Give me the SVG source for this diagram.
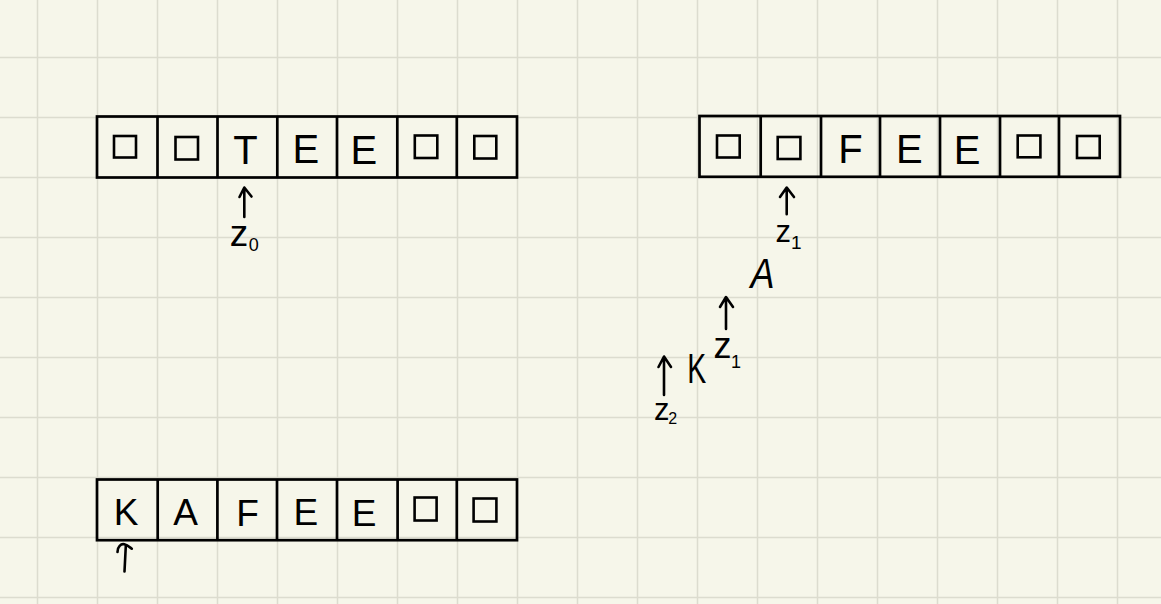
<svg xmlns="http://www.w3.org/2000/svg" width="1161" height="604" viewBox="0 0 1161 604">
<defs>
<style>
.grid line{stroke:#dcdccf;stroke-width:1.5}
.cell{fill:none;stroke:#000;stroke-width:2.7}
.blank{fill:none;stroke:#000;stroke-width:2.6}
.l{font-family:"Liberation Sans",Arial,sans-serif;font-size:40px;fill:#000;text-anchor:middle}
.l3{font-size:37px}
.h{font-family:"Liberation Sans",Arial,sans-serif;fill:#000;text-anchor:middle}
.arr{fill:none;stroke:#000;stroke-width:2.6;stroke-linecap:round;stroke-linejoin:round}
</style>
</defs>
<rect width="1161" height="604" fill="#f6f6ea"/>
<g class="grid">
<line x1="37.5" y1="0" x2="37.5" y2="604"/><line x1="97.5" y1="0" x2="97.5" y2="604"/><line x1="157.5" y1="0" x2="157.5" y2="604"/><line x1="217.5" y1="0" x2="217.5" y2="604"/><line x1="277.5" y1="0" x2="277.5" y2="604"/><line x1="337.5" y1="0" x2="337.5" y2="604"/><line x1="397.5" y1="0" x2="397.5" y2="604"/><line x1="457.5" y1="0" x2="457.5" y2="604"/><line x1="517.5" y1="0" x2="517.5" y2="604"/><line x1="577.5" y1="0" x2="577.5" y2="604"/><line x1="637.5" y1="0" x2="637.5" y2="604"/><line x1="697.5" y1="0" x2="697.5" y2="604"/><line x1="757.5" y1="0" x2="757.5" y2="604"/><line x1="817.5" y1="0" x2="817.5" y2="604"/><line x1="877.5" y1="0" x2="877.5" y2="604"/><line x1="937.5" y1="0" x2="937.5" y2="604"/><line x1="997.5" y1="0" x2="997.5" y2="604"/><line x1="1057.5" y1="0" x2="1057.5" y2="604"/><line x1="1117.5" y1="0" x2="1117.5" y2="604"/>
<line x1="0" y1="57.5" x2="1161" y2="57.5"/><line x1="0" y1="117.5" x2="1161" y2="117.5"/><line x1="0" y1="177.5" x2="1161" y2="177.5"/><line x1="0" y1="237.5" x2="1161" y2="237.5"/><line x1="0" y1="297.5" x2="1161" y2="297.5"/><line x1="0" y1="357.5" x2="1161" y2="357.5"/><line x1="0" y1="417.5" x2="1161" y2="417.5"/><line x1="0" y1="477.5" x2="1161" y2="477.5"/><line x1="0" y1="537.5" x2="1161" y2="537.5"/><line x1="0" y1="597.5" x2="1161" y2="597.5"/>
</g>

<g id="tape1">
<rect class="cell" x="97" y="116.5" width="420" height="61"/>
<path class="cell" d="M157.5,116.5V177.5M217.5,116.5V177.5M277.3,116.5V177.5M337,116.5V177.5M397.3,116.5V177.5M456.8,116.5V177.5"/>
<rect class="blank" x="114" y="136" width="22" height="21.5"/>
<rect class="blank" x="175.5" y="137" width="22.5" height="22.5"/>
<text class="l" x="245.4" y="163.5">T</text>
<text class="l" x="305.8" y="163">E</text>
<text class="l" x="363.8" y="164">E</text>
<rect class="blank" x="414.8" y="135.5" width="22.5" height="22.5"/>
<rect class="blank" x="474.3" y="136" width="22" height="22.5"/>
</g>

<g id="tape2">
<rect class="cell" x="699.5" y="116" width="420.5" height="60.8"/>
<path class="cell" d="M760.7,116V176.8M821,116V176.8M880,116V176.8M940,116V176.8M1000,116V176.8M1059,116V176.8"/>
<rect class="blank" x="717" y="135.5" width="22.7" height="22"/>
<rect class="blank" x="777.7" y="137" width="22.7" height="22"/>
<text class="l" x="850.5" y="162.5">F</text>
<text class="l" x="909.3" y="162.5">E</text>
<text class="l" x="967" y="163.5">E</text>
<rect class="blank" x="1017.7" y="135.5" width="22.7" height="21.8"/>
<rect class="blank" x="1077" y="136" width="22.7" height="22"/>
</g>

<g id="tape3">
<rect class="cell" x="97" y="479.5" width="420" height="60.7"/>
<path class="cell" d="M157.7,479.5V540.2M217.4,479.5V540.2M277,479.5V540.2M337,479.5V540.2M397.6,479.5V540.2M456.8,479.5V540.2"/>
<text class="l l3" x="126" y="525">K</text>
<text class="l l3" x="185.6" y="525">A</text>
<text class="l l3" x="247.5" y="525.7">F</text>
<text class="l l3" x="305.8" y="525">E</text>
<text class="l l3" x="364" y="526">E</text>
<rect class="blank" x="414.6" y="497.5" width="22" height="23"/>
<rect class="blank" x="473.6" y="498.5" width="22.8" height="23"/>
</g>

<g id="label-z0">
<text class="h" x="239" y="245.7" font-size="37">z</text>
<text class="h" x="253.8" y="250.5" font-size="18">0</text>
</g>
<g id="label-z1-top">
<text class="h" x="783.3" y="241.7" font-size="31">z</text>
<text class="h" x="796.2" y="249" font-size="19">1</text>
</g>
<g id="label-A">
<text class="h" x="762.5" y="288.3" font-size="43" font-style="italic" textLength="24" lengthAdjust="spacingAndGlyphs">A</text>
</g>
<g id="label-z1-mid">
<text class="h" x="722.5" y="358.3" font-size="36">z</text>
<text class="h" x="736" y="368.3" font-size="18">1</text>
</g>
<g id="label-K">
<text class="h" x="696.7" y="383.3" font-size="42" textLength="19" lengthAdjust="spacingAndGlyphs">K</text>
</g>
<g id="label-z2">
<text class="h" x="661.7" y="420" font-size="31">z</text>
<text class="h" x="672.6" y="424" font-size="16">2</text>
</g>

<g id="connectors">
<path class="arr" d="M244.3,217V188.5M239.5,197L244.3,187.5L251.5,196.5"/>
<path class="arr" d="M786.7,214.3V188.5M780,197L786.7,187.5L794,197"/>
<path class="arr" d="M726,329V298M720,307L726,297L733,307"/>
<path class="arr" d="M664,395V357.5M658.5,367L664,356.5L671,367"/>
<path class="arr" d="M124.5,571.5L125.8,546M117.5,552C117.5,546.5 121,543.5 124.3,544.3C127.3,545 129.5,547 131.8,548.7"/>
</g>
</svg>
